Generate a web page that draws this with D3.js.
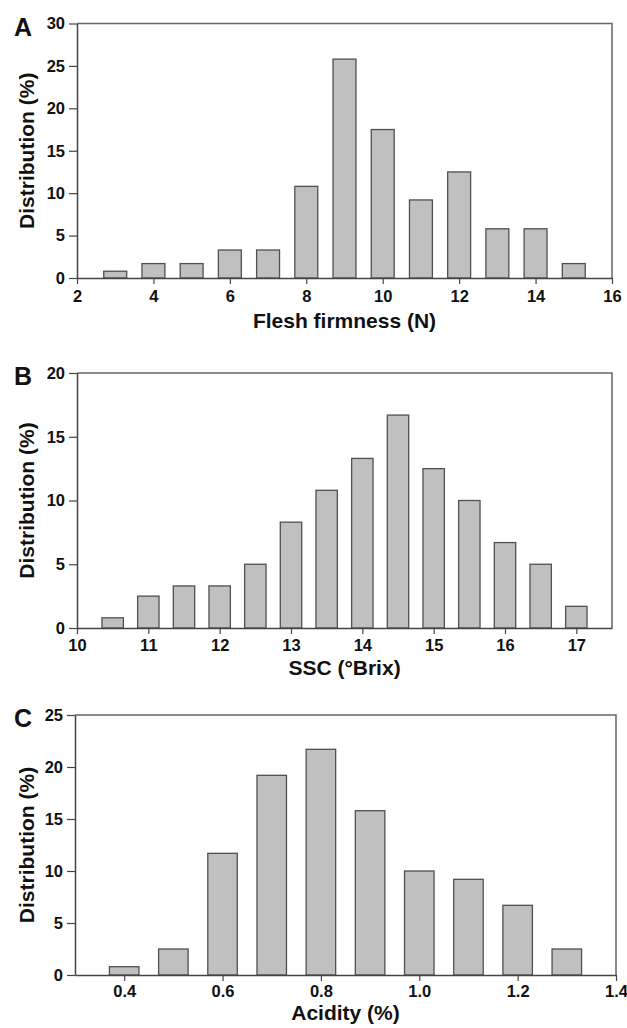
<!DOCTYPE html>
<html>
<head>
<meta charset="utf-8">
<script src="https://cdn.jsdelivr.net/npm/d3@7"></script>
<style>
  body { margin: 0; background: #fff; }
  text { font-family: "Liberation Sans", Arial, sans-serif; font-weight: bold; fill: #111; }
</style>
</head>
<body>
<div id="chart"></div>
<script>
// panel A - flesh firmness
var firmBins = [3, 4, 5, 6, 7, 8, 9, 10, 11, 12, 13, 14, 15];
var firmPct = [0.8, 1.7, 1.7, 3.3, 3.3, 10.8, 25.8, 17.5, 9.2, 12.5, 5.8, 5.8, 1.7];
var firmTicks = [2, 4, 6, 8, 10, 12, 14, 16];
var firmYTicks = [0, 5, 10, 15, 20, 25, 30];

// panel B - SSC
var sscBins = [10.5, 11, 11.5, 12, 12.5, 13, 13.5, 14, 14.5, 15, 15.5, 16, 16.5, 17];
var sscPct = [0.8, 2.5, 3.3, 3.3, 5.0, 8.3, 10.8, 13.3, 16.7, 12.5, 10.0, 6.7, 5.0, 1.7];
var sscTicks = [10, 11, 12, 13, 14, 15, 16, 17];
var sscYTicks = [0, 5, 10, 15, 20];

// panel C - acidity
var acidBins = [0.4, 0.5, 0.6, 0.7, 0.8, 0.9, 1.0, 1.1, 1.2, 1.3];
var acidPct = [0.8, 2.5, 11.7, 19.2, 21.7, 15.8, 10.0, 9.2, 6.7, 2.5];
var acidTicks = [0.4, 0.6, 0.8, 1.0, 1.2, 1.4];
var acidYTicks = [0, 5, 10, 15, 20, 25];

var svg = d3.select("#chart").append("svg").attr("width", 627).attr("height", 1028);

function panel(p) {
    var x = d3.scaleLinear().domain(p.xDomain).range([p.left, p.right]);
    var y = d3.scaleLinear().domain(p.yDomain).range([p.bottom, p.top]);
    var g = svg.append("g");

    // frame top + right
    g.append("path")
        .attr("d", "M" + p.left + "," + p.top + "H" + p.right + "V" + p.bottom)
        .style("fill", "none").style("stroke", "#666").style("stroke-width", 1.5);

    var bars = p.bins.map(function(b, i) { return {b: b, v: p.vals[i]}; });
    g.selectAll("rect").data(bars).enter().append("rect")
        .attr("x", function(d) { return x(d.b - p.bw / 2); })
        .attr("width", function(d) { return x(d.b + p.bw / 2) - x(d.b - p.bw / 2); })
        .attr("y", function(d) { return y(d.v); })
        .attr("height", function(d) { return y(0) - y(d.v); })
        .style("fill", "#c0c0c0").style("stroke", "#505050").style("stroke-width", 1.3);

    var xAxis = g.append("g").attr("transform", "translate(0," + p.bottom + ")")
        .call(d3.axisBottom(x).tickValues(p.xTicks).tickSize(6).tickPadding(p.tickPad)
            .tickSizeOuter(0).tickFormat(p.fmt));
    var yAxis = g.append("g").attr("transform", "translate(" + p.left + ",0)")
        .call(d3.axisLeft(y).tickValues(p.yTicks).tickSize(8).tickPadding(4).tickSizeOuter(0));

    [xAxis, yAxis].forEach(function(a) {
        a.select(".domain").style("stroke", "#444").style("stroke-width", 1.5);
        a.selectAll(".tick line").style("stroke", "#444").style("stroke-width", 1.2);
        a.selectAll(".tick text").style("font-size", "16.5px").style("fill", "#111")
            .style("font-family", "Liberation Sans, Arial, sans-serif").style("font-weight", "bold");
    });

    svg.append("text")
        .attr("x", (p.left + p.right) / 2)
        .attr("y", p.bottom + p.titleGap)
        .attr("text-anchor", "middle")
        .style("font-size", "21px")
        .text(p.xLabel);

    svg.append("text")
        .attr("transform", "translate(34," + (p.top + p.bottom) / 2 + ") rotate(-90)")
        .attr("text-anchor", "middle")
        .style("font-size", "21px")
        .text("Distribution (%)");

    svg.append("text")
        .attr("x", 23).attr("y", p.top + 12)
        .attr("text-anchor", "middle")
        .style("font-size", "25px")
        .text(p.letter);
}

panel({
    letter: "A", bins: firmBins, vals: firmPct, bw: 0.6,
    xDomain: [2, 16], yDomain: [0, 30], xTicks: firmTicks, yTicks: firmYTicks,
    left: 77, right: 612, top: 23.5, bottom: 278, titleGap: 50, tickPad: 6,
    xLabel: "Flesh firmness (N)", fmt: d3.format("d")
});

panel({
    letter: "B", bins: sscBins, vals: sscPct, bw: 0.3,
    xDomain: [10, 17.5], yDomain: [0, 20], xTicks: sscTicks, yTicks: sscYTicks,
    left: 77, right: 612, top: 373, bottom: 628, titleGap: 47, tickPad: 5,
    xLabel: "SSC (°Brix)", fmt: d3.format("d")
});

panel({
    letter: "C", bins: acidBins, vals: acidPct, bw: 0.06,
    xDomain: [0.3, 1.4], yDomain: [0, 25], xTicks: acidTicks, yTicks: acidYTicks,
    left: 75, right: 616, top: 715, bottom: 975, titleGap: 45, tickPad: 4,
    xLabel: "Acidity (%)", fmt: d3.format(".1f")
});
</script>
</body>
</html>
